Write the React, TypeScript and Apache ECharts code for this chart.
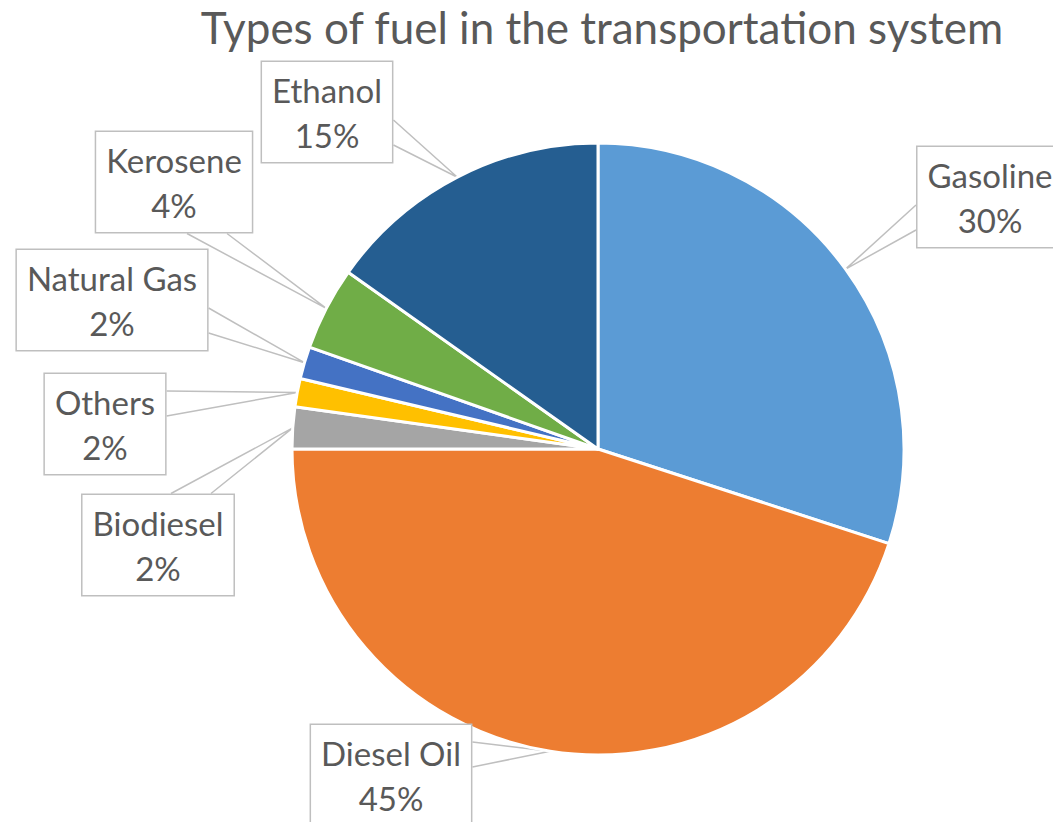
import React, { useEffect, useRef } from "react";
import * as echarts from "echarts";

const categories = ["Gasoline", "Diesel Oil", "Biodiesel", "Others", "Natural Gas", "Kerosene", "Ethanol"];
const shares = [30, 45, 2.2, 1.5, 1.7, 4.4, 15.2];
const colors = ["#5B9BD5", "#ED7D31", "#A5A5A5", "#FFC000", "#4472C4", "#70AD47", "#255E91"];

// label box centres (layout only)
const labelCentres: number[][] = [
  [990, 197],
  [391, 775],
  [158, 545],
  [105, 424],
  [112, 300],
  [174, 182],
  [327, 112],
];

const FONT = "Lato";
const TEXT = "#595959";
const LINE = "#BFBFBF";

export default function App() {
  const ref = useRef<HTMLDivElement>(null);
  useEffect(() => {
    const chart = echarts.init(ref.current!, null, { renderer: "svg" });
    chart.setOption({
      animation: false,
      backgroundColor: "#ffffff",
      title: {
        text: "Types of fuel in the transportation system",
        left: 597,
        textAlign: "center",
        top: 0,
        textStyle: { fontFamily: FONT, fontSize: 44, fontWeight: "normal", color: TEXT },
      },
      series: [
        {
          type: "pie",
          center: [598, 449],
          radius: 306,
          startAngle: 90,
          clockwise: true,
          avoidLabelOverlap: false,
          data: categories.map((c, i) => ({ name: c, value: shares[i], itemStyle: { color: colors[i] } })),
          itemStyle: { borderColor: "#ffffff", borderWidth: 3 },
          label: {
            show: true,
            position: "outside",
            formatter: (p: any) => `${p.name}\n${Math.round(p.percent)}%`,
            fontFamily: FONT,
            fontSize: 33,
            lineHeight: 45,
            color: TEXT,
            align: "center",
            backgroundColor: "#ffffff",
            borderColor: LINE,
            borderWidth: 1.5,
            padding: [5, 10],
          },
          labelLine: { show: true, length: 20, length2: 20, lineStyle: { color: LINE, width: 1.5 } },
          labelLayout: (params: any) => {
            const pos = labelCentres[params.dataIndex];
            const cx = pos[0];
            const cy = pos[1];
            const w = params.labelRect.width;
            const h = params.labelRect.height;
            const tip = params.labelLinePoints ? params.labelLinePoints[0] : [cx, cy];
            const dx = tip[0] - cx;
            const dy = tip[1] - cy;
            let a: number[];
            let b: number[];
            if (Math.abs(dx) / (w / 2) > Math.abs(dy) / (h / 2)) {
              const sx = cx + Math.sign(dx) * (w / 2);
              const s = Math.sign(dy) || 1;
              a = [sx, cy + s * 8];
              b = [sx, cy + s * 33];
            } else {
              const sy = cy + Math.sign(dy) * (h / 2);
              const s = Math.sign(dx) || 1;
              a = [cx + s * 13, sy];
              b = [cx + s * 53, sy];
            }
            return {
              x: cx,
              y: cy,
              align: "center",
              verticalAlign: "middle",
              labelLinePoints: [a, tip, b],
            };
          },
        },
      ],
    });
    return () => chart.dispose();
  }, []);
  return (
    <div
      ref={ref}
      style={{ position: "absolute", left: 0, top: 0, width: 1053, height: 822 }}
    />
  );
}
